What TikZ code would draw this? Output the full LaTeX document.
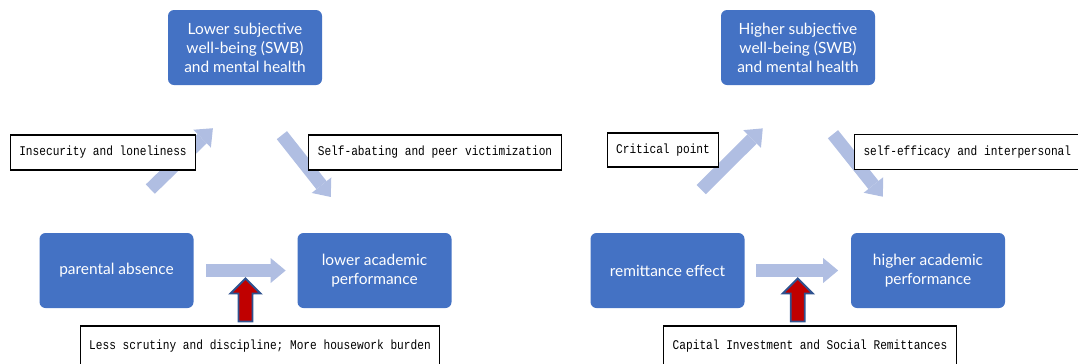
\documentclass[tikz,border=0pt]{standalone}
\usepackage{fontspec}
\usepackage{tikz}
\usetikzlibrary{arrows.meta,calc}
\newfontfamily\boxfont{Lato}
\newfontfamily\tagfont[FakeStretch=0.84]{Liberation Mono}
\definecolor{officeblue}{RGB}{68,114,196}
\definecolor{paleblue}{RGB}{176,190,226}
\definecolor{pushred}{RGB}{192,0,0}
\definecolor{pushnavy}{RGB}{47,82,143}

\begin{document}
\begin{tikzpicture}[x=1cm,y=1cm,
  block/.style={fill=officeblue,rounded corners=0.12cm,minimum width=3.08cm,minimum height=1.5cm,
    inner sep=0pt,text=white,align=center,font=\boxfont\fontsize{8.8}{10.8}\selectfont},
  tag/.style={draw=black,line width=0.6pt,fill=white,inner xsep=0.18cm,inner ysep=0pt,
    minimum height=0.7cm,font=\tagfont\fontsize{7.56}{9}\selectfont},
  flow/.style={paleblue,line width=0.26cm,-{Triangle[length=0.3cm,width=0.5cm,line width=0pt]}},
  push/.style={fill=pushred,draw=pushnavy,line width=1.1pt,line join=miter}]
\useasboundingbox (0,0) rectangle (21.56,7.26);
% the two triangles
\node[block] (swbL) at (4.90,6.31) {Lower subjective\\well-being (SWB)\\and mental health};
\node[block] (absent) at (2.33,1.85) {parental absence};
\node[block] (lowperf) at (7.49,1.85) {lower academic\\performance};
\node[block] (swbR) at (15.96,6.31) {Higher subjective\\well-being (SWB)\\and mental health};
\node[block] (remit) at (13.35,1.85) {remittance effect};
\node[block] (highperf) at (18.56,1.85) {higher academic\\performance};
% block arrows
\draw[flow,shorten <=0.24cm,shorten >=0.23cm] (absent) -- (lowperf);
\draw[flow,shorten <=1.25cm,shorten >=1.23cm] ([xshift=-0.22cm]absent.north) -- ([xshift=0.24cm]swbL.south);
\draw[flow,shorten <=1.27cm,shorten >=0.91cm] ([xshift=-0.05cm]swbL.south) -- ([xshift=-0.31cm]lowperf.north);
\draw[flow,shorten <=0.22cm,shorten >=0.25cm] (remit) -- (highperf);
\draw[flow,shorten <=1.22cm,shorten >=1.22cm] ([xshift=-0.19cm]remit.north) -- ([xshift=0.16cm]swbR.south);
\draw[flow,shorten <=1.25cm,shorten >=0.92cm] ([xshift=-0.08cm]swbR.south) -- ([xshift=-0.33cm]highperf.north);
% labels
\node[tag] (lonely) at (2.06,4.21) {Insecurity and loneliness};
\node[tag] (abate) at (8.70,4.21) {Self-abating and peer victimization};
\node[tag,minimum height=0.68cm] (critical) at (13.26,4.26) {Critical point};
\node[tag,anchor=west] (efficacy) at (17.08,4.22) {self-efficacy and interpersonal};
\node[tag,minimum height=0.8cm] (scrutiny) at (5.20,0.34) {Less scrutiny and discipline; More housework burden};
\node[tag,minimum height=0.8cm] (capital) at (16.20,0.34) {Capital Investment and Social Remittances};
% red push arrows
\coordinate (pushL) at ($(absent.east)!0.5!(lowperf.west)+(0,-0.16)$);
\coordinate (pushR) at ($(remit.east)!0.5!(highperf.west)+(0,-0.16)$);
\path (scrutiny.north -| pushL) ++(0,0.08) coordinate (baseL);
\path (capital.north -| pushR) ++(0,0.08) coordinate (baseR);
\foreach \tip/\base in {pushL/baseL,pushR/baseR}{
  \filldraw[push] ([xshift=-0.14cm]\base) -- ([xshift=-0.14cm,yshift=-0.30cm]\tip)
    -- ([xshift=-0.30cm,yshift=-0.30cm]\tip) -- (\tip) -- ([xshift=0.30cm,yshift=-0.30cm]\tip)
    -- ([xshift=0.14cm,yshift=-0.30cm]\tip) -- ([xshift=0.14cm]\base) -- cycle;}
\end{tikzpicture}
\end{document}
